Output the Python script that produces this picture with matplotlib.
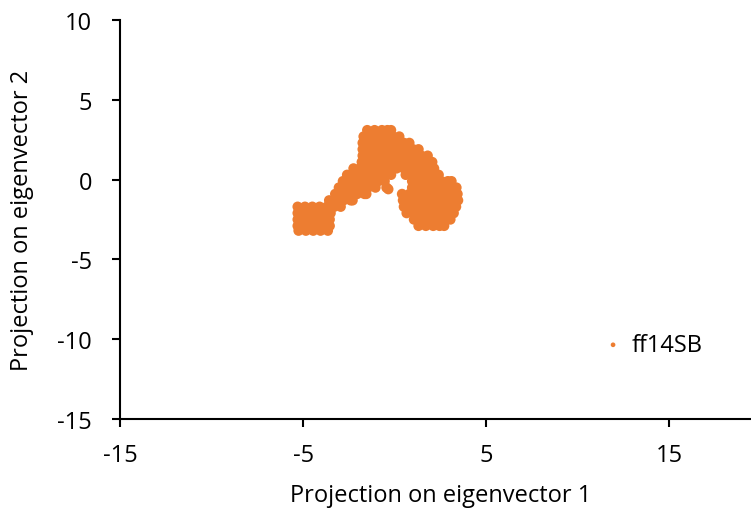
import matplotlib
matplotlib.use("Agg")
import matplotlib.pyplot as plt

plt.rcParams['font.family'] = ['Open Sans', 'DejaVu Sans']
plt.rcParams['axes.unicode_minus'] = False

# projection points, one list of x per row of y
row_y = [3.1, 2.7, 2.3, 1.9, 1.5, 1.1, 0.7, 0.3, -0.1, -0.5, -0.6, -0.9,
         -1.3, -1.7, -2.1, -2.5, -2.9, -3.2]
row_x = [
    [-1.5, -1.1, -0.7, -0.4, -0.2],
    [-1.7, -1.3, -0.9, -0.5, -0.1, 0.25],
    [-1.75, -1.35, -0.95, -0.55, -0.15, 0.25, 0.5, 0.8],
    [-1.75, -1.35, -0.95, -0.55, -0.15, 0.25, 0.65, 1.0, 1.3],
    [-1.75, -1.35, -0.95, -0.55, -0.15, 0.25, 0.65, 1.05, 1.45, 1.8],
    [-1.8, -1.4, -1.0, -0.6, -0.2, 0.2, 0.6, 1.0, 1.4, 1.75, 2.05],
    [-2.25, -1.9, -1.5, -1.1, -0.7, -0.3, 0.1, 0.5, 0.9, 1.3, 1.7, 2.15],
    [-2.6, -2.2, -1.8, -1.4, -1.0, -0.6, -0.2, 0.6, 1.0, 1.4, 1.8, 2.15, 2.4],
    [-2.83, -2.45, -2.05, -1.65, -1.25, -0.9, -0.55,
     0.95, 1.35, 1.75, 2.15, 2.55, 2.9, 3.1],
    [-3.05, -2.65, -2.25, -1.85, -1.45, -1.05, -0.45,
     0.95, 1.35, 1.75, 2.15, 2.55, 2.95, 3.37],
    [-0.35],
    [-3.25, -2.85, -2.45, -2.05, -1.65, -1.55,
     0.4, 0.8, 1.2, 1.6, 2.0, 2.4, 2.8, 3.2, 3.43],
    [-3.58, -3.2, -2.8, -2.4, -2.3,
     0.45, 0.85, 1.25, 1.65, 2.05, 2.45, 2.85, 3.25, 3.46],
    [-5.3, -4.9, -4.5, -4.1, -3.7, -3.3, -2.95,
     0.5, 0.95, 1.35, 1.75, 2.15, 2.55, 2.95, 3.35],
    [-5.3, -4.9, -4.5, -4.1, -3.7, -3.5,
     0.65, 1.05, 1.45, 1.85, 2.25, 2.65, 3.05, 3.22],
    [-5.3, -4.9, -4.5, -4.1, -3.7, -3.55,
     1.05, 1.45, 1.85, 2.25, 2.65, 3.04],
    [-5.3, -4.9, -4.5, -4.1, -3.7, -3.55,
     1.3, 1.7, 2.1, 2.45, 2.7],
    [-5.25, -4.85, -4.45, -4.05, -3.65],
]
series_name = 'ff14SB'

xs, ys = [], []
for y, row in zip(row_y, row_x):
    for x in row:
        xs.append(x)
        ys.append(y)

fig = plt.figure(figsize=(7.51, 5.10), dpi=100)
ax = fig.add_axes([120 / 751, 1 - 420 / 510, 641 / 751, 399 / 510])
ax.scatter(xs, ys, s=56, color='#ED7D31', edgecolors='none', label=series_name)

ax.set_xlim(-15, 20)
ax.set_ylim(-15, 10)
ax.set_xticks([-15, -5, 5, 15])
ax.set_yticks([-15, -10, -5, 0, 5, 10])
for side in ['top', 'right']:
    ax.spines[side].set_visible(False)
for side in ['left', 'bottom']:
    ax.spines[side].set_linewidth(1.5)
ax.tick_params(direction='out', length=6, width=1.5, labelsize=17, pad=14)
ax.tick_params(axis='x', pad=11)

ax.set_xlabel('Projection on eigenvector 1', fontsize=17, labelpad=12)
ax.set_ylabel('Projection on eigenvector 2', fontsize=17, labelpad=17)

ax.legend(loc='center left', bbox_to_anchor=(580 / 751, 1 - 346 / 510),
          bbox_transform=fig.transFigure, frameon=False, fontsize=17,
          markerscale=0.45, handletextpad=0.3, handlelength=1.0)

fig.savefig('out.png', dpi=100)
